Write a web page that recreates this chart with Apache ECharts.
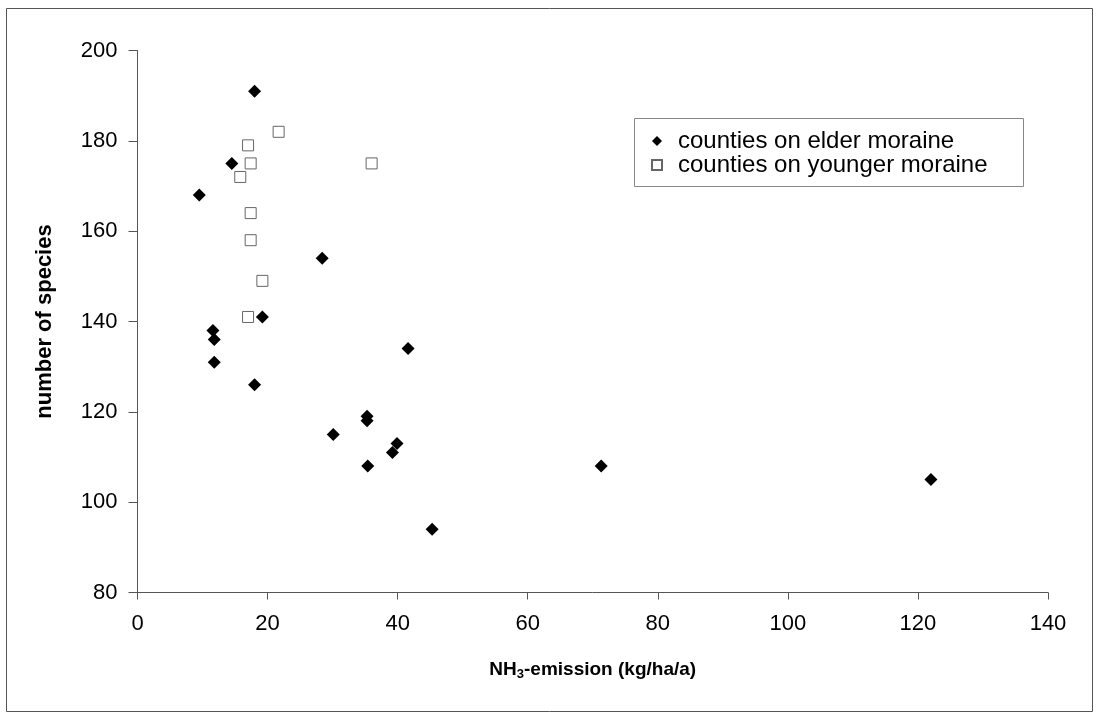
<!DOCTYPE html>
<html>
<head>
<meta charset="utf-8">
<script src="https://cdn.jsdelivr.net/npm/echarts@6/dist/echarts.min.js"></script>
<style>
  html, body { margin: 0; padding: 0; background: #fff; }
  #chart { width: 1099px; height: 719px; }
</style>
</head>
<body>
<div id="chart"></div>
<script>
// NH3-emission vs number of species
const elderX = [18.0, 14.5, 9.5, 28.4, 19.2, 11.6, 11.8, 11.8, 18.0, 41.6, 35.3, 35.3, 30.1, 39.9, 39.2, 35.4, 45.3, 71.3, 122.0];
const elderY = [191, 175, 168, 154, 141, 138, 136, 131, 126, 134, 119, 118, 115, 113, 111, 108, 94, 108, 105];
const youngerX = [21.7, 17.0, 17.4, 36.0, 15.8, 17.4, 17.4, 19.2, 17.0];
const youngerY = [182, 179, 175, 175, 172, 164, 158, 149, 141];

const font = 'Liberation Sans, Arial, sans-serif';
const myChart = echarts.init(document.getElementById('chart'));

myChart.setOption({
  backgroundColor: '#fff',
  animation: false,
  textStyle: { fontFamily: font },
  graphic: [
    {
      // outer frame
      type: 'rect',
      shape: { x: 6.5, y: 8.5, width: 1086, height: 703 },
      style: { fill: 'none', stroke: '#555', lineWidth: 1 },
      silent: true
    },
    {
      // legend frame
      type: 'rect',
      shape: { x: 634.5, y: 118.5, width: 389, height: 68 },
      style: { fill: 'none', stroke: '#888', lineWidth: 1 },
      silent: true
    }
  ],
  grid: { left: 137.5, right: 51, top: 50.5, bottom: 126.5 },
  legend: {
    orient: 'vertical',
    left: 651,
    top: 129,
    padding: 0,
    itemGap: 0,
    itemWidth: 10,
    itemHeight: 10,
    textStyle: { fontFamily: font, fontSize: 24, lineHeight: 23, color: '#000', padding: [0, 0, 0, 11] },
    data: [
      { name: 'counties on elder moraine', icon: 'diamond' },
      { name: 'counties on younger moraine', icon: 'rect' }
    ]
  },
  xAxis: {
    type: 'value',
    min: 0,
    max: 140,
    interval: 20,
    splitLine: { show: false },
    axisLine: { onZero: false, lineStyle: { color: '#555', width: 1 } },
    axisTick: { inside: false, length: 7, lineStyle: { color: '#555' } },
    axisLabel: { fontSize: 22, color: '#000', margin: 20, fontFamily: font },
    name: '{a|NH}{b|3}{a|-emission (kg/ha/a)}',
    nameLocation: 'middle',
    nameGap: 66,
    nameTextStyle: {
      rich: {
        a: { fontSize: 19, fontWeight: 'bold', color: '#000', fontFamily: font },
        b: { fontSize: 13, fontWeight: 'bold', color: '#000', fontFamily: font, verticalAlign: 'bottom', padding: [9, 0, 0, 0] }
      }
    }
  },
  yAxis: {
    type: 'value',
    min: 80,
    max: 200,
    interval: 20,
    splitLine: { show: false },
    axisLine: { onZero: false, lineStyle: { color: '#555', width: 1 } },
    axisTick: { inside: false, length: 9, lineStyle: { color: '#555' } },
    axisLabel: { fontSize: 22, color: '#000', margin: 20, fontFamily: font },
    name: 'number of species',
    nameLocation: 'middle',
    nameGap: 82,
    nameTextStyle: { fontSize: 22, fontWeight: 'bold', color: '#000', fontFamily: font }
  },
  series: [
    {
      name: 'counties on elder moraine',
      type: 'scatter',
      symbol: 'diamond',
      symbolSize: 13,
      itemStyle: { color: '#000', opacity: 1 },
      data: elderX.map((x, i) => [x, elderY[i]])
    },
    {
      name: 'counties on younger moraine',
      type: 'scatter',
      symbol: 'rect',
      symbolSize: 11,
      itemStyle: { color: '#fff', borderColor: '#666', borderWidth: 1, opacity: 1 },
      data: youngerX.map((x, i) => [x, youngerY[i]])
    }
  ]
});
</script>
</body>
</html>
